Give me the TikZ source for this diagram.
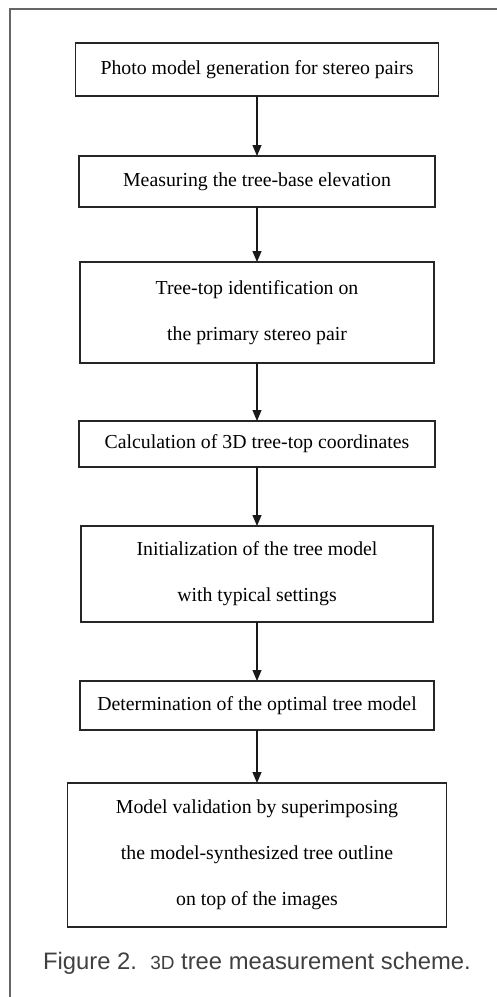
\documentclass[tikz,border=0pt]{standalone}
\usepackage{fontspec}
\setmainfont{Liberation Serif}
\newfontfamily\capfont{Liberation Sans}
\usepackage{tikz}
\usetikzlibrary{arrows.meta, positioning}

\begin{document}
\begin{tikzpicture}[
    x=1pt, y=-1pt,
    node distance=57pt,
    stepbox/.style={rectangle, draw=black!85, line width=1.3pt, minimum width=356pt, align=center,
      font=\fontsize{19.8}{46}\selectfont, inner sep=0pt, outer sep=0pt},
    arrow/.style={-{Triangle[length=11pt, width=9pt]}, line width=1.1pt, black!90}
  ]
    \useasboundingbox (0,0) rectangle (497,997);
    % frame
    \draw[black!60, line width=1.3pt] (10,997) -- (10,9) -- (497,9);

    \node[stepbox, minimum width=363pt, minimum height=53pt] (gen) at (257,69.5) {Photo model generation for stereo pairs};
    \node[stepbox, minimum height=51pt, below=60pt of gen] (base) {Measuring the tree-base elevation};
    \node[stepbox, minimum width=354pt, minimum height=101pt, below=55pt of base] (ident) {Tree-top identification on\\the primary stereo pair};
    \node[stepbox, minimum height=46pt, below=58pt of ident] (coord) {Calculation of 3D tree-top coordinates};
    \node[stepbox, minimum width=352pt, minimum height=96pt, below=59pt of coord] (init) {Initialization of the tree model\\with typical settings};
    \node[stepbox, minimum width=354pt, minimum height=49pt, below=59pt of init] (optim) {Determination of the optimal tree model};
    \node[stepbox, minimum width=379pt, minimum height=144pt, below=53pt of optim] (valid) {Model validation by superimposing\\the model-synthesized tree outline\\on top of the images};

    \draw[arrow] (gen) -- (base);
    \draw[arrow] (base) -- (ident);
    \draw[arrow] (ident) -- (coord);
    \draw[arrow] (coord) -- (init);
    \draw[arrow] (init) -- (optim);
    \draw[arrow] (optim) -- (valid);

    \node[font=\capfont\fontsize{23.8}{28}\selectfont, text=black!75, below=22pt of valid] (caption)
      {Figure 2.\ \ {\fontsize{19}{28}\selectfont 3D} tree measurement scheme.};
  \end{tikzpicture}
\end{document}
